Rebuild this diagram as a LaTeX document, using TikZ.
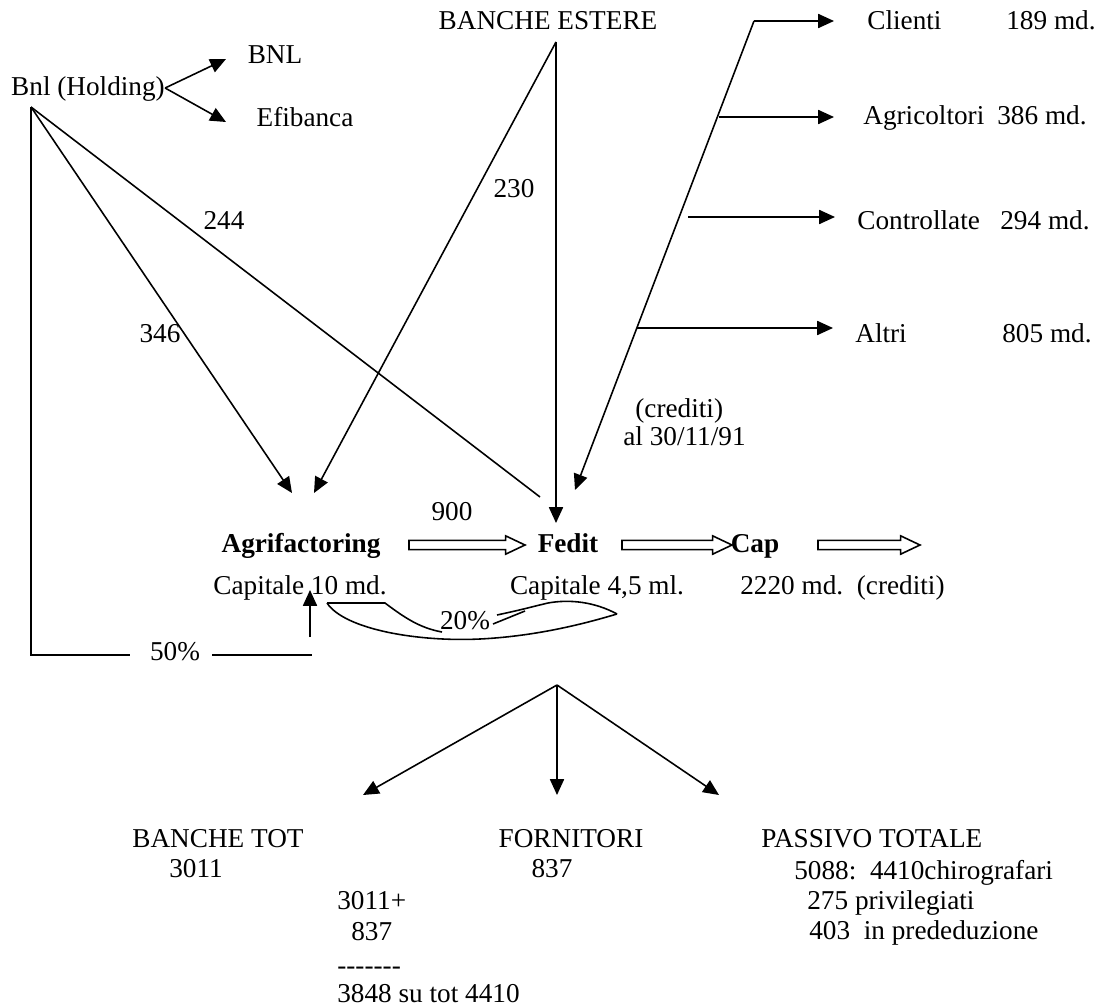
\documentclass[tikz,border=0pt]{standalone}
\usepackage{fontspec}
\setmainfont{Liberation Serif}
\usetikzlibrary{arrows.meta,calc}
\tikzset{
  txt/.style={inner sep=0pt,text height=11pt,text depth=3pt,font=\fontsize{15.5}{18}\selectfont},
  bld/.style={txt,font=\fontsize{15.5}{18}\selectfont\bfseries},
  freccia/.style={line width=0.9pt,-{Triangle[length=9pt,width=8pt]}},
  linea/.style={line width=0.9pt},
  vuota/.style={line width=0.9pt,to path={let \p1=(\tikztostart),\p2=(\tikztotarget) in
    (\x1,\y1-2.6pt) -- (\x2-11pt,\y1-2.6pt) -- (\x2-11pt,\y1-5.2pt) -- (\x2,\y1)
    -- (\x2-11pt,\y1+5.2pt) -- (\x2-11pt,\y1+2.6pt) -- (\x1,\y1+2.6pt) -- cycle}}
}

\begin{document}
\begin{tikzpicture}[x=0.02cm,y=-0.02cm]
\useasboundingbox (0,0) rectangle (1098,1007);
% holding e banche estere
\node[txt] (bnlh) at (88,88) {Bnl (Holding)};
\node[txt] (bnl) at (275,56) {BNL};
\node[txt] (efi) at (305,119) {Efibanca};
\node[txt] (estere) at (548,22) {BANCHE ESTERE};
\coordinate (bnltip) at (226,59);
\coordinate (efitip) at (226,122);
\draw[freccia] (bnlh.east) -- (bnltip);
\draw[freccia] (bnlh.east) -- (efitip);

% societa'
\node[bld] (agri) at (301,545) {Agrifactoring};
\node[bld] (fedit) at (568,545) {Fedit};
\node[bld] (cap) at (755,545) {Cap};
\node[txt] (capa) at (300,587) {Capitale 10 md.};
\node[txt] (capf) at (597,587) {Capitale 4,5 ml.};
\node[txt,anchor=west] (capc) at (740,587) {2220 md.\ \ (crediti)};
\node[txt] (n900) at (452,513) {900};
\coordinate (h1s) at (409,545); \coordinate (h1e) at (525,545);
\coordinate (h2s) at (622,545); \coordinate (h2e) at (732,545);
\coordinate (h3s) at (818,545); \coordinate (h3e) at (920,545);
\draw[vuota] (h1s) to (h1e);
\draw[vuota] (h2s) to (h2e);
\draw[vuota] (h3s) to (h3e);

% partecipazioni
\coordinate (bnlc) at (31,107);
\coordinate (agl) at (292,493);
\coordinate (agr) at (314,493);
\coordinate (fed244) at (540,497);
\coordinate (bea) at (556,42);
\coordinate (fedt) at (556,523);
\draw[freccia] (bnlc) -- (agl);
\draw[linea] (bnlc) -- (fed244);
\draw[freccia] (bea) -- (agr);
\draw[freccia] (bea) -- (fedt);
\node[txt] (l346) at (160,335) {346};
\node[txt] (l244) at (224,222) {244};
\node[txt] (l230) at (514,190) {230};

% 50%
\node[txt] (fifty) at (175,653) {50\%};
\coordinate (l50a) at (130,655);
\coordinate (l50b) at (212,655);
\coordinate (l50c) at (312,655);
\draw[linea] (bnlc) |- (l50a);
\draw[linea] (l50b) -- (l50c);
\coordinate (upb) at (310,637);
\coordinate (upt) at (310,590);
\draw[freccia] (upb) -- (upt);

% 20%
\draw[linea] (327,603) -- (385,603) .. controls (405,618) and (420,628) .. (442,632);
\draw[linea] (327,603) .. controls (345,630) and (420,642) .. (480,639)
  .. controls (540,636) and (590,622) .. (617,614);
\draw[linea] (617,614) .. controls (595,602) and (570,599) .. (548,603)
  .. controls (535,606) and (525,609) .. (497,615);
\draw[linea] (493,624) -- (525,611);
\node[txt] (venti) at (465,622) {20\%};

% crediti
\coordinate (crc) at (754,21);
\coordinate (fedr) at (575,490);
\coordinate (clitip) at (834,21);
\coordinate (agrs) at (719,117);
\coordinate (agrtip) at (834,117);
\coordinate (cons) at (688,217);
\coordinate (contip) at (835,217);
\coordinate (alts) at (637,328);
\coordinate (alttip) at (833,328);
\draw[freccia] (crc) -- (clitip);
\draw[freccia] (crc) -- (fedr);
\draw[freccia] (agrs) -- (agrtip);
\draw[freccia] (cons) -- (contip);
\draw[freccia] (alts) -- (alttip);
\node[txt,anchor=west] (cli) at (867,22) {Clienti};
\node[txt,anchor=west] (clin) at (1006,22) {189 md.};
\node[txt,anchor=west] (agc) at (863,117) {Agricoltori};
\node[txt,anchor=west] (agcn) at (997,117) {386 md.};
\node[txt,anchor=west] (con) at (857,222) {Controllate};
\node[txt,anchor=west] (conn) at (1000,222) {294 md.};
\node[txt,anchor=west] (alt) at (855,335) {Altri};
\node[txt,anchor=west] (altn) at (1002,335) {805 md.};
\node[txt,anchor=west] (cred) at (635,410) {(crediti)};
\node[txt,anchor=west] (data) at (623,438) {al 30/11/91};

% passivo
\coordinate (bap) at (557,685);
\coordinate (btl) at (363,795);
\coordinate (btm) at (557,795);
\coordinate (btr) at (719,795);
\draw[freccia] (bap) -- (btl);
\draw[freccia] (bap) -- (btm);
\draw[freccia] (bap) -- (btr);
\node[txt] (btot) at (218,840) {BANCHE TOT};
\node[txt] (btotn) at (196,870) {3011};
\node[txt] (forn) at (571,840) {FORNITORI};
\node[txt] (fornn) at (552,870) {837};
\node[txt,anchor=west] (pass) at (761,840) {PASSIVO TOTALE};
\node[txt,anchor=west] (pass1) at (794,872) {5088:\ \ 4410chirografari};
\node[txt,anchor=west] (pass2) at (807,902) {275 privilegiati};
\node[txt,anchor=west] (pass3) at (809,932) {403\ \ in prededuzione};
\node[txt,anchor=west] (som1) at (337,902) {3011+};
\node[txt,anchor=west] (som2) at (351,933) {837};
\node[txt,anchor=base west] (som3) at (337,974) {-{}-{}-{}-{}-{}-{}-};
\node[txt,anchor=base west,text height=,text depth=] (som4) at (337,1002) {3848 su tot 4410};
\end{tikzpicture}
\end{document}
